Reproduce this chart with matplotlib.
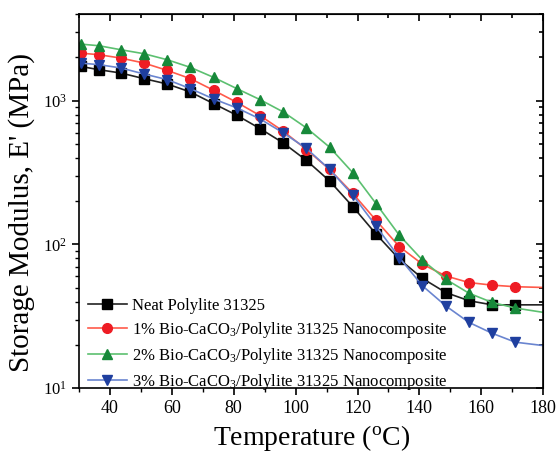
import matplotlib
matplotlib.use('Agg')
import matplotlib.pyplot as plt
from matplotlib.ticker import LogLocator, LogFormatterMathtext, MultipleLocator, NullFormatter

plt.rcParams['font.family'] = ['Liberation Serif', 'DejaVu Serif']
plt.rcParams['mathtext.fontset'] = 'custom'
plt.rcParams['mathtext.rm'] = 'Liberation Serif'
plt.rcParams['mathtext.it'] = 'Liberation Serif:italic'

# temperatures of the plotted markers (deg C); the last value is the curve end
temp = [30.5, 36.5, 43.5, 51, 58.5, 66, 73.5, 81, 88.5, 96, 103.5, 111,
        118.5, 126, 133.5, 141, 148.5, 156, 163.5, 171, 180]

neat = [1730, 1640, 1556, 1422, 1305, 1148, 953, 791, 639, 508, 384, 276,
        183, 118, 79, 58, 46.3, 40.6, 38.0, 38.0, 38.0]
bio1 = [2140, 2085, 1977, 1825, 1623, 1422, 1180, 973, 787, 613, 457, 332,
        226, 147, 96.6, 72.8, 60.4, 54.3, 52.1, 50.8, 50.2]
bio2 = [2472, 2408, 2259, 2119, 1925, 1703, 1451, 1212, 1016, 834, 646, 474,
        315, 192, 116, 77.7, 57.3, 45.8, 39.5, 36.1, 33.7]
bio3 = [1825, 1778, 1688, 1532, 1400, 1212, 1027, 890, 746, 597, 465, 332,
        220, 134, 81, 51.5, 37.4, 28.7, 24.1, 20.9, 19.8]

labels = ['Neat Polylite 31325',
          '1% Bio-CaCO$_3$/Polylite 31325 Nanocomposite',
          '2% Bio-CaCO$_3$/Polylite 31325 Nanocomposite',
          '3% Bio-CaCO$_3$/Polylite 31325 Nanocomposite']

styles = [('s', '#000000', '#222222', 6.5),
          ('o', '#ee1c24', '#ff5a4a', 7),
          ('^', '#17893a', '#5cc070', 7.5),
          ('v', '#1f3f9f', '#6a85d0', 7.5)]

fig = plt.figure(figsize=(5.6, 4.53), dpi=100)
ax = fig.add_axes([0.141, 0.143, 0.829, 0.826])

n_marks = len(temp) - 1
for series, lab, (mk, mc, lc, ms) in zip([neat, bio1, bio2, bio3], labels, styles):
    ax.plot(temp, series, color=lc, lw=1.2, marker=mk, markersize=ms,
            markerfacecolor=mc, markeredgecolor=mc, markevery=list(range(n_marks)),
            label=lab)

ax.set_yscale('log')
ax.set_xlim(30, 180)
ax.set_ylim(10, 4000)
ax.xaxis.set_major_locator(MultipleLocator(20))
ax.xaxis.set_minor_locator(MultipleLocator(10))
ax.yaxis.set_major_locator(LogLocator(base=10))
ax.yaxis.set_major_formatter(LogFormatterMathtext())
ax.yaxis.set_minor_locator(LogLocator(base=10, subs=range(2, 10)))
ax.yaxis.set_minor_formatter(NullFormatter())

ax.tick_params(axis='both', which='major', direction='out', length=5, width=1.2,
               labelsize=13)
ax.tick_params(axis='both', which='minor', direction='out', length=3, width=1)
ax.tick_params(axis='y', labelsize=12)

top = ax.secondary_xaxis('top')
top.xaxis.set_major_locator(MultipleLocator(20))
top.xaxis.set_minor_locator(MultipleLocator(10))
top.tick_params(which='both', direction='in', labeltop=False, length=5, width=1.2)
top.tick_params(which='minor', length=3)
right = ax.secondary_yaxis('right')
right.yaxis.set_minor_locator(LogLocator(base=10, subs=range(2, 10)))
right.tick_params(which='both', direction='in', labelright=False, length=5, width=1.2)
right.tick_params(which='minor', length=3)
right.yaxis.set_minor_formatter(NullFormatter())

for s in ax.spines.values():
    s.set_linewidth(1.2)

ax.set_xlabel('Temperature ($^{\\mathrm{o}}$C)', fontsize=20, labelpad=4)
ax.set_ylabel("Storage Modulus, E' (MPa)", fontsize=21)
ax.yaxis.set_label_coords(-0.095, 0.469)

ax.legend(loc='lower left', bbox_to_anchor=(-0.005, -0.04), frameon=False,
          fontsize=12, handlelength=2.3, handletextpad=0.35, labelspacing=0.35,
          borderaxespad=0.3)

fig.savefig('out.png', dpi=100)
